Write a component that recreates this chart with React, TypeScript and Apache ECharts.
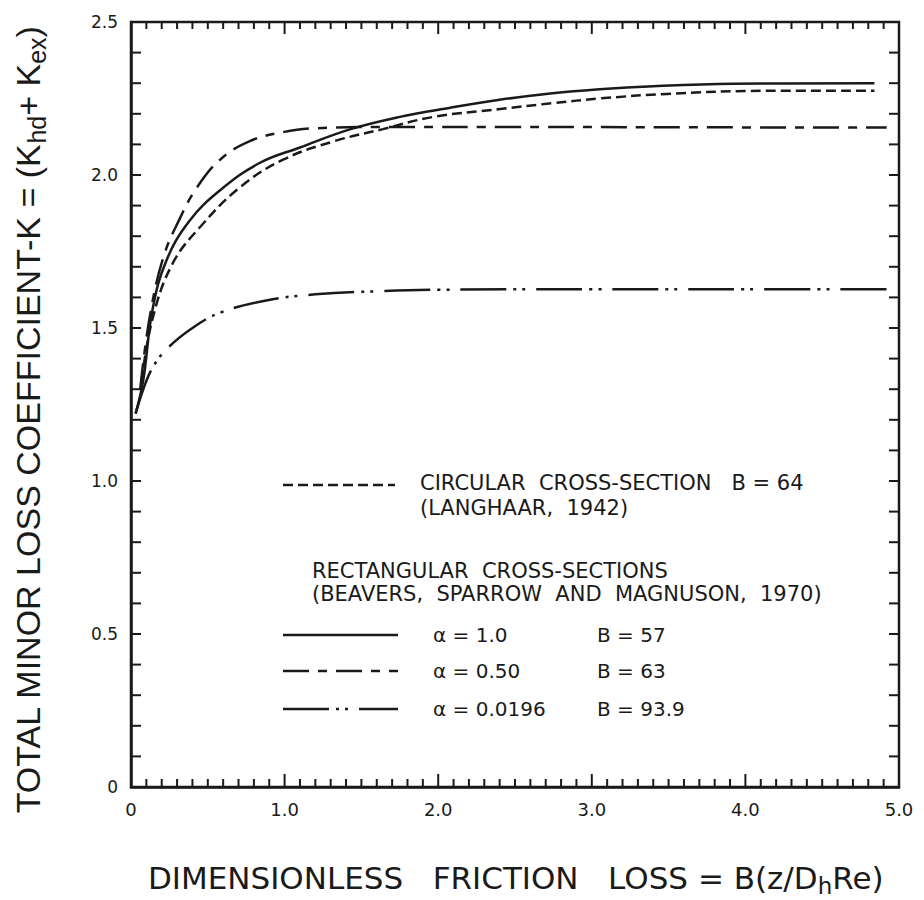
import React, { useEffect, useRef } from "react";
import * as echarts from "echarts";

// ---- data ----
const xTickLabels = ["0", "1.0", "2.0", "3.0", "4.0", "5.0"];
const yTickLabels = ["0", "0.5", "1.0", "1.5", "2.0", "2.5"];

// Circular cross-section, B = 64 (Langhaar, 1942)
const circX = [0.07, 0.14, 0.27, 0.45, 0.71, 0.99, 1.32, 1.64, 1.97, 2.39, 2.75, 3.05, 3.49, 4.14, 4.84];
const circY = [1.33, 1.53, 1.71, 1.83, 1.96, 2.05, 2.11, 2.15, 2.19, 2.215, 2.235, 2.25, 2.265, 2.275, 2.275];

// alpha = 1.0, B = 57
const a1X = [0.03, 0.08, 0.14, 0.23, 0.38, 0.58, 0.84, 1.1, 1.43, 1.75, 2.08, 2.39, 2.7, 3.05, 3.4, 3.92, 4.84];
const a1Y = [1.22, 1.33, 1.56, 1.72, 1.85, 1.95, 2.04, 2.09, 2.15, 2.19, 2.22, 2.245, 2.265, 2.28, 2.29, 2.298, 2.3];

// alpha = 0.50, B = 63
const a05X = [0.06, 0.12, 0.21, 0.32, 0.43, 0.58, 0.77, 0.99, 1.21, 1.75, 2.5, 3.5, 4.92];
const a05Y = [1.3, 1.53, 1.73, 1.86, 1.96, 2.05, 2.11, 2.14, 2.153, 2.157, 2.157, 2.156, 2.155];

// alpha = 0.0196, B = 93.9
const a002X = [0.03, 0.08, 0.14, 0.23, 0.4, 0.58, 0.88, 1.2, 1.6, 2.0, 3.0, 4.0, 4.93];
const a002Y = [1.22, 1.3, 1.37, 1.43, 1.5, 1.55, 1.59, 1.61, 1.62, 1.625, 1.627, 1.627, 1.627];

// axis ranges and minor tick step
const xRange = [0, 5];
const yRange = [0, 2.5];
const minorStep = 0.1;

const legendCircular = ["CIRCULAR  CROSS-SECTION   B = 64", "(LANGHAAR,  1942)"];
const legendRectHeader = ["RECTANGULAR  CROSS-SECTIONS", "(BEAVERS,  SPARROW  AND  MAGNUSON,  1970)"];
const legendAlpha = ["α = 1.0", "α = 0.50", "α = 0.0196"];
const legendB = ["B = 57", "B = 63", "B = 93.9"];

const pair = (xs: number[], ys: number[]) => xs.map((x, i) => [x, ys[i]]);

const INK = "#1a1a1a";
const FONT = "DejaVu Sans";
const LFONT = "Liberation Sans";

const dashCirc = [10, 5];
const dashA05 = [26, 9, 9, 9];
const dashA002 = [46, 7, 3, 6, 3, 11];

export default function App() {
  const ref = useRef<HTMLDivElement>(null);
  useEffect(() => {
    if (!ref.current) return;
    const chart = echarts.init(ref.current, null, { renderer: "svg" });

    const lineSeries = (name: string, data: number[][], dash: any) => ({
      type: "line",
      name,
      data,
      showSymbol: false,
      symbol: "none",
      smooth: 0.4,
      lineStyle: { color: INK, width: 2.5, type: dash },
      z: 3,
    });

    const legendRows = [635, 671, 709];
    const legendDashes: any[] = [null, dashA05, dashA002];
    const txt = (x: number, y: number, text: string, size: number) => ({
      type: "text",
      x,
      y,
      style: { text, fontFamily: FONT, fontSize: size, fill: INK, verticalAlign: "middle" },
    });

    const graphics: any[] = [
      {
        type: "text",
        x: 28,
        y: 420,
        rotation: Math.PI / 2,
        style: {
          text: "{a|TOTAL MINOR LOSS COEFFICIENT-K = (K}{s|hd}{a|+ K}{s|ex}{a|)}",
          align: "center",
          verticalAlign: "middle",
          fill: INK,
          rich: {
            a: { fontFamily: LFONT, fontSize: 34, fill: INK, lineHeight: 42 },
            s: { fontFamily: LFONT, fontSize: 25, fill: INK, lineHeight: 29, verticalAlign: "bottom" },
          },
        },
      },
      {
        type: "text",
        x: 148,
        y: 878,
        style: {
          text: "{a|DIMENSIONLESS   FRICTION   LOSS = B(z/D}{s|h}{a|Re)}",
          align: "left",
          verticalAlign: "middle",
          fill: INK,
          rich: {
            a: { fontFamily: FONT, fontSize: 31, fill: INK, lineHeight: 38 },
            s: { fontFamily: FONT, fontSize: 23, fill: INK, lineHeight: 26, verticalAlign: "bottom" },
          },
        },
      },
      {
        type: "line",
        shape: { x1: 283, y1: 485, x2: 395, y2: 485 },
        style: { stroke: INK, lineWidth: 2.5, lineDash: dashCirc },
      },
      txt(420, 483, legendCircular[0], 21),
      txt(420, 508, legendCircular[1], 21),
      txt(312, 571, legendRectHeader[0], 21),
      txt(312, 594, legendRectHeader[1], 21),
    ];

    legendRows.forEach((y, i) => {
      graphics.push({
        type: "line",
        shape: { x1: 283, y1: y, x2: 398, y2: y },
        style: { stroke: INK, lineWidth: 2.5, lineDash: legendDashes[i] || undefined },
      });
      graphics.push(txt(433, y, legendAlpha[i], 20));
      graphics.push(txt(597, y, legendB[i], 20));
    });

    // frame tick descriptors: [value, side(0 bottom,1 top,2 left,3 right), major]
    const tickItems: number[][] = [];
    const nx = Math.round((xRange[1] - xRange[0]) / minorStep);
    for (let i = 1; i < nx; i++) {
      const v = +(xRange[0] + i * minorStep).toFixed(4);
      const major = i % 10 === 0 ? 1 : 0;
      tickItems.push([v, 0, major], [v, 1, major]);
    }
    const ny = Math.round((yRange[1] - yRange[0]) / minorStep);
    for (let i = 1; i < ny; i++) {
      const v = +(yRange[0] + i * minorStep).toFixed(4);
      tickItems.push([v, 2, 0], [v, 3, 0]);
    }

    const frameSeries = {
      type: "custom",
      name: "frame",
      silent: true,
      clip: false,
      z: 4,
      data: tickItems,
      renderItem: (params: any, api: any) => {
        const v = api.value(0);
        const side = api.value(1);
        const major = api.value(2);
        const st = { stroke: INK, lineWidth: 2 };
        let p: number[];
        let shape: any;
        if (side === 0) {
          p = api.coord([v, yRange[0]]);
          shape = { x1: p[0], y1: p[1], x2: p[0], y2: p[1] - (major ? 13 : 8) };
        } else if (side === 1) {
          p = api.coord([v, yRange[1]]);
          shape = { x1: p[0], y1: p[1], x2: p[0], y2: p[1] + (major ? 12 : 7) };
        } else if (side === 2) {
          p = api.coord([xRange[0], v]);
          shape = { x1: p[0], y1: p[1], x2: p[0] + 10, y2: p[1] };
        } else {
          p = api.coord([xRange[1], v]);
          shape = { x1: p[0], y1: p[1], x2: p[0] - 10, y2: p[1] };
        }
        return { type: "line", shape, style: st };
      },
    };

    const lineOn = { show: true, onZero: false, lineStyle: { color: INK, width: 2.5 } };

    chart.setOption({
      animation: false,
      backgroundColor: "#ffffff",
      grid: {
        left: 131,
        right: 25,
        top: 22,
        bottom: 113,
        containLabel: false,
        show: true,
        borderColor: INK,
        borderWidth: 2.5,
        backgroundColor: "transparent",
      },
      xAxis: {
        type: "value",
        position: "bottom",
        min: xRange[0],
        max: xRange[1],
        interval: 1,
        axisLine: lineOn,
        splitLine: { show: false },
        axisTick: { show: false },
        axisLabel: {
          show: true,
          margin: 13,
          fontFamily: FONT,
          fontSize: 18,
          color: INK,
          formatter: (v: number) => xTickLabels[Math.round(v)] ?? "",
        },
      },
      yAxis: {
        type: "value",
        position: "left",
        min: yRange[0],
        max: yRange[1],
        interval: 0.5,
        axisLine: lineOn,
        splitLine: { show: false },
        axisTick: { show: false },
        axisLabel: {
          show: true,
          margin: 13,
          fontFamily: FONT,
          fontSize: 17,
          color: INK,
          formatter: (v: number) => yTickLabels[Math.round(v * 2)] ?? "",
        },
      },
      series: [
        lineSeries("Circular B=64", pair(circX, circY), dashCirc),
        lineSeries("α=1.0 B=57", pair(a1X, a1Y), "solid"),
        lineSeries("α=0.50 B=63", pair(a05X, a05Y), dashA05),
        lineSeries("α=0.0196 B=93.9", pair(a002X, a002Y), dashA002),
        frameSeries,
      ],
      graphic: graphics,
    });

    return () => chart.dispose();
  }, []);

  return (
    <div
      ref={ref}
      style={{ position: "fixed", left: 0, top: 0, width: 924, height: 900, background: "#fff" }}
    />
  );
}
